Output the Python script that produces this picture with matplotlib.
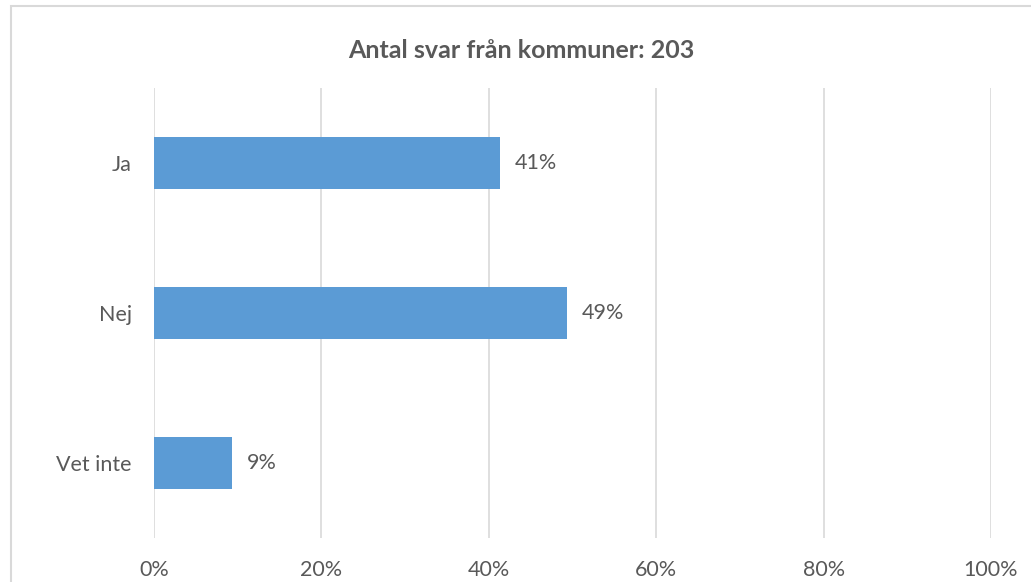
import matplotlib.pyplot as plt
from matplotlib.patches import Rectangle

# Data
categories = ["Ja", "Nej", "Vet inte"]
shares = [41.3, 49.3, 9.3]
value_labels = ["41%", "49%", "9%"]
xticks = [0, 20, 40, 60, 80, 100]
xticklabels = ["0%", "20%", "40%", "60%", "80%", "100%"]
title = "Antal svar från kommuner: 203"

text_col = "#595959"
grid_col = "#D9D9D9"
bar_col = "#5B9BD5"

plt.rcParams['font.family'] = ['Lato', 'DejaVu Sans']

fig = plt.figure(figsize=(10.31, 5.82), dpi=100)
ax = fig.add_axes([154 / 1031, 1 - 538 / 582, (991 - 154) / 1031, (538 - 88) / 582])

# chart border (right and bottom edges fall outside the image)
fig.patches.append(Rectangle((11 / 1031, -0.05), 1.0, 1 - 6 / 582 + 0.05,
                             transform=fig.transFigure, fill=False,
                             edgecolor=grid_col, lw=1.5))

ypos = list(range(len(categories)))
ax.barh(ypos, shares, height=0.353, color=bar_col, zorder=3)
for y, v, lab in zip(ypos, shares, value_labels):
    ax.text(v + 1.8, y, lab, va='center', ha='left', fontsize=15.5, color=text_col)

ax.set_xlim(0, 100)
ax.set_ylim(2.5, -0.5)
ax.set_yticks(ypos)
ax.set_yticklabels(categories, fontsize=15.5, color=text_col)
ax.set_xticks(xticks)
ax.set_xticklabels(xticklabels, fontsize=15.5, color=text_col)
ax.tick_params(axis='both', length=0)
ax.tick_params(axis='x', pad=16)
ax.tick_params(axis='y', pad=16)
ax.grid(axis='x', color=grid_col, lw=1.2, zorder=0)
for s in ax.spines.values():
    s.set_visible(False)

fig.text(521 / 1031, 1 - 51 / 582, title, ha='center', va='center',
         fontsize=18, fontweight='bold', color=text_col)

fig.savefig("out.png", dpi=100)
